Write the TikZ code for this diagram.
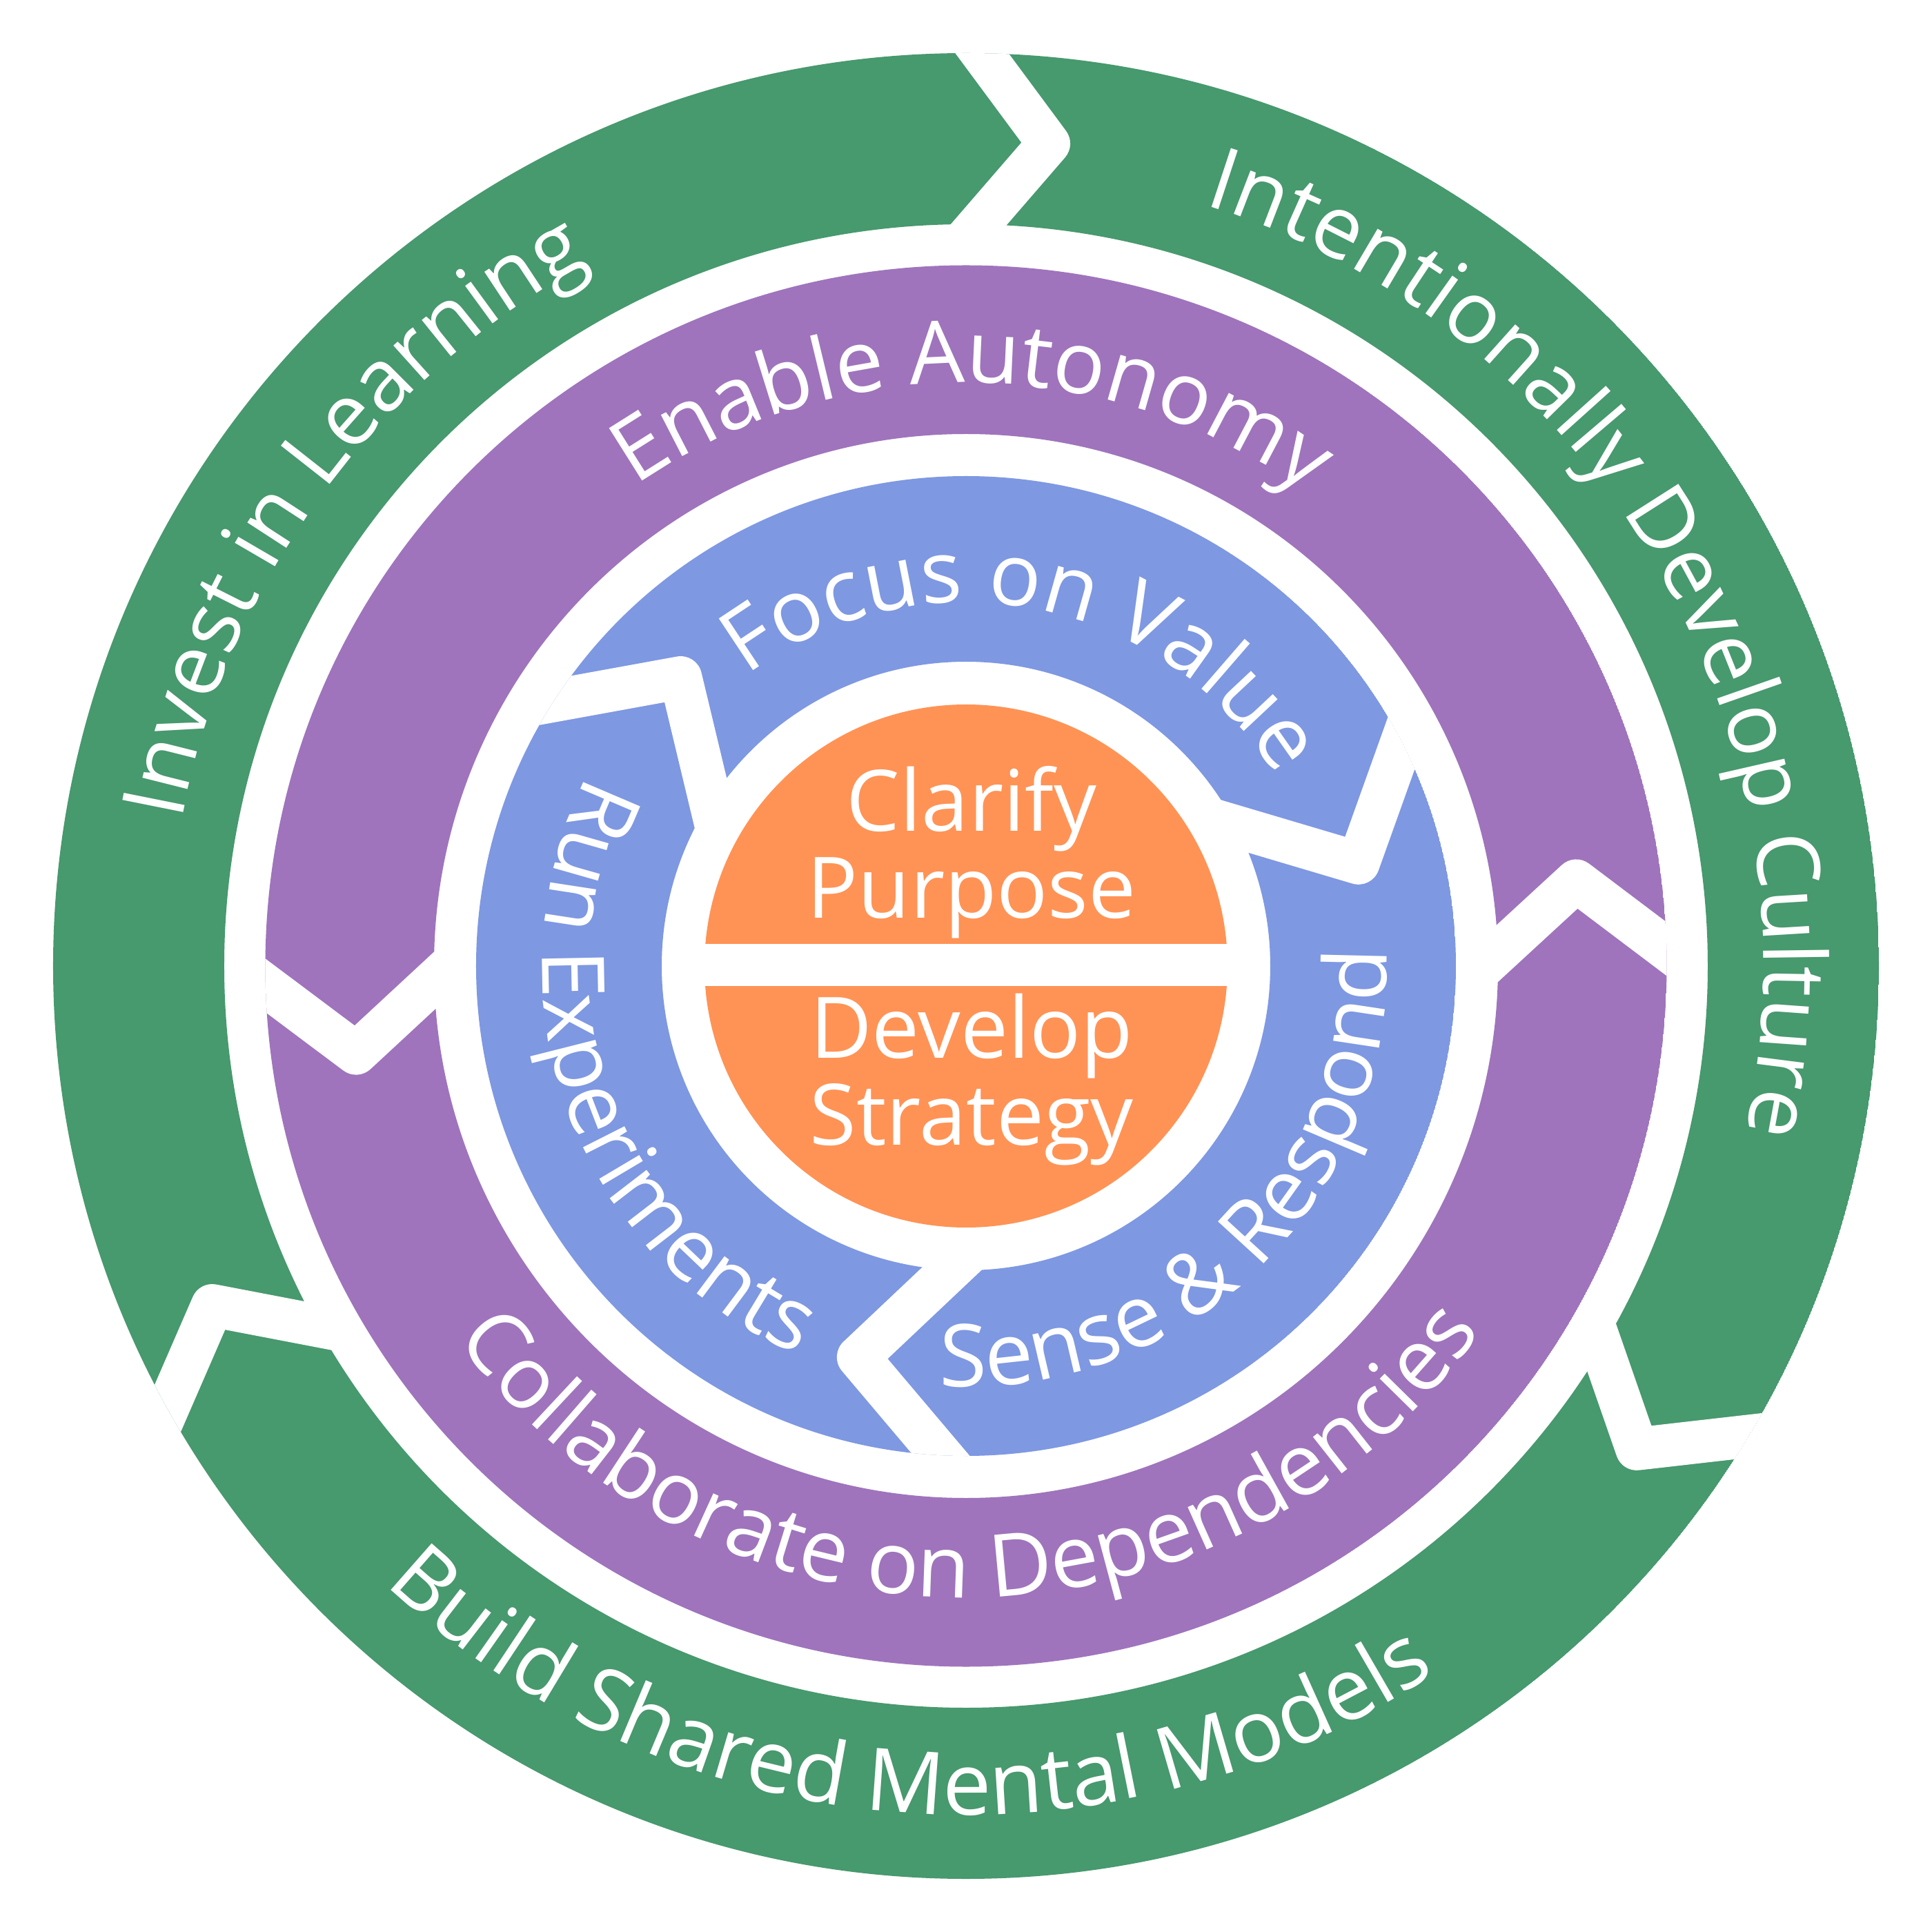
\documentclass[tikz,border=0pt]{standalone}
\usepackage{fontspec}
\setmainfont{Open Sans}
\usetikzlibrary{decorations.text,calc}
\definecolor{ringgreen}{HTML}{47996E}
\definecolor{ringpurple}{HTML}{9F74BC}
\definecolor{ringblue}{HTML}{7E98E2}
\definecolor{coreorange}{HTML}{FF9355}
\newcommand\ringfont{\fontsize{35.8}{35.8}\selectfont}
\newcommand\corefont{\fontsize{35}{35}\selectfont}
% white chevron between two arrows: axis angle, tip angle, outer r, inner r, tip r
\newcommand\gapcut[5]{%
  \draw[gapline] ($({#2}:#5)!1.4!({#1}:#3)$) -- ({#2}:#5) -- ($({#2}:#5)!1.4!({#1}:#4)$);}
\begin{document}
\begin{tikzpicture}[
  gapline/.style={draw=white, line width=6.2mm, line join=round},
  ringtext/.style={decorate, decoration={text along path, text align=center,
    text={|\ringfont\color{white}|#1}}},
  coretext/.style={text=white, font=\corefont, anchor=base, inner sep=0pt}
]
\fill[white] (-14,-14) rectangle (14,14);
\useasboundingbox (-14,-14) rectangle (14,14);
% outer ring: green, three arrows clockwise
\begin{scope}
\clip (0,0) circle (13.23);
\fill[ringgreen, even odd rule] (0,0) circle (13.23) (0,0) circle (10.75);
\gapcut{89}{84.25}{13.23}{10.75}{11.98}
\gapcut{-31}{-35.75}{13.23}{10.75}{11.98}
\gapcut{209}{204.25}{13.23}{10.75}{11.98}
\end{scope}
% middle ring: purple, two arrows anticlockwise
\begin{scope}
\clip (0,0) circle (10.155);
\fill[ringpurple, even odd rule] (0,0) circle (10.155) (0,0) circle (7.71);
\gapcut{1.4}{7.95}{10.155}{7.71}{8.93}
\gapcut{181.6}{188.15}{10.155}{7.71}{8.93}
\end{scope}
% inner ring: blue, three arrows clockwise
\begin{scope}
\clip (0,0) circle (7.10);
\fill[ringblue, even odd rule] (0,0) circle (7.10) (0,0) circle (4.41);
\gapcut{147.2}{134.7}{7.10}{4.41}{5.88}
\gapcut{27.2}{14.7}{7.10}{4.41}{5.88}
\gapcut{-92.9}{-105.4}{7.10}{4.41}{5.88}
\end{scope}
% core: orange disc cut in two
\fill[coreorange] (0,0) circle (3.79);
\fill[white] (-3.9,-0.29) rectangle (3.9,0.32);
\node[coretext] (clarify) at (0.08,1.95) {Clarify};
\node[coretext] (purpose) at (0.08,0.694) {Purpose};
\node[coretext] (develop) at (0.08,-1.337) {Develop};
\node[coretext] (strategy) at (0.08,-2.597) {Strategy};
% green labels
\path[ringtext={Invest in Learning}] (218.8:11.56) arc[start angle=218.8, end angle=68.8, radius=11.56];
\path[ringtext={Intentionally Develop Culture}] (105.3:11.56) arc[start angle=105.3, end angle=-44.7, radius=11.56];
\path[ringtext={Build Shared Mental Models}] (190.2:12.30) arc[start angle=190.2, end angle=340.2, radius=12.30];
% purple labels
\path[ringtext={Enable Autonomy}] (164.3:8.45) arc[start angle=164.3, end angle=14.3, radius=8.45];
\path[ringtext={Collaborate on Dependencies}] (195.4:9.15) arc[start angle=195.4, end angle=345.4, radius=9.15];
% blue labels
\path[ringtext={Focus on Value}] (154.2:5.27) arc[start angle=154.2, end angle=4.2, radius=5.27];
\path[ringtext={Run Experiments}] (124.9:6.14) arc[start angle=124.9, end angle=274.9, radius=6.14];
\path[ringtext={Sense {\&} Respond}] (239.35:6.10) arc[start angle=239.35, end angle=389.35, radius=6.10];
\end{tikzpicture}
\end{document}
